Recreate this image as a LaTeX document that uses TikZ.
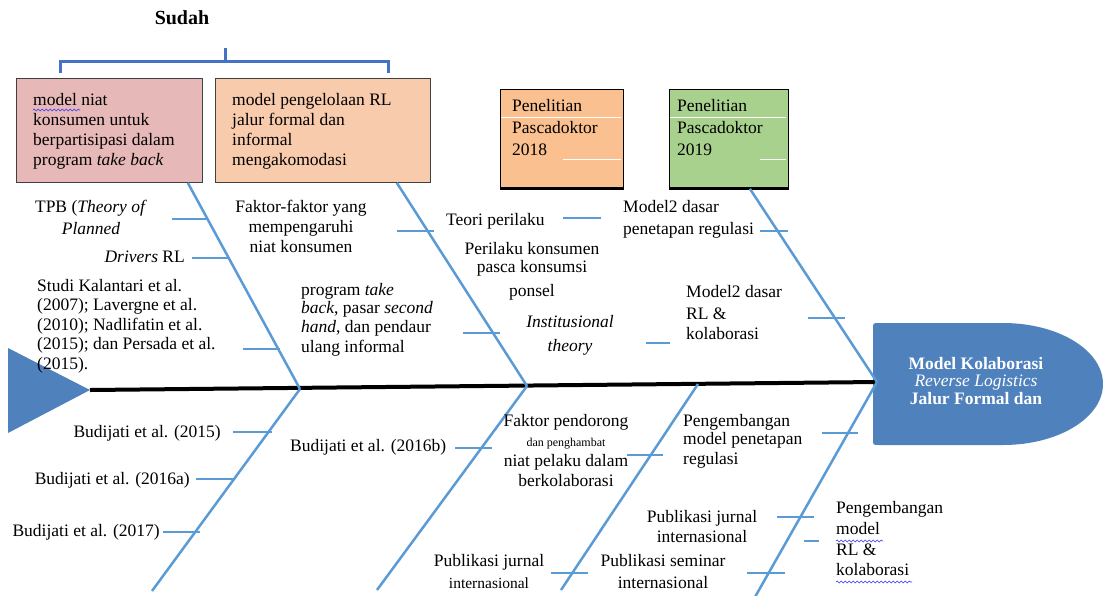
\documentclass[tikz,border=0pt]{standalone}
\usepackage{fontspec}
\setmainfont{Liberation Serif}
\usetikzlibrary{calc}
\usetikzlibrary{decorations.pathmorphing}

\definecolor{bonecol}{HTML}{5B9BD5}
\definecolor{headcol}{HTML}{4F81BD}
\definecolor{brackcol}{HTML}{4472C4}
\definecolor{pinkbox}{HTML}{E6B8B7}
\definecolor{peachbox}{HTML}{F8CBAD}
\definecolor{orangebox}{HTML}{FAC090}
\definecolor{greenbox}{HTML}{A9D18E}

\newcommand{\txt}{\fontsize{17.5}{20}\selectfont}
\newcommand{\smalltxt}{\fontsize{12}{14}\selectfont}

\tikzset{
  bone/.style = {draw = bonecol, line width = 2.5pt},
  rib/.style = {draw = bonecol, line width = 1.3pt},
  thickrib/.style = {draw = bonecol, line width = 2.5pt},
  lbl/.style = {inner sep = 0pt, font = \txt},
  topbox/.style = {draw = black!75, line width = .8pt, anchor = north west,
    inner sep = 0pt},
  wavy/.style = {draw = blue!80, line width = .6pt, decorate,
    decoration = {snake, amplitude = .9pt, segment length = 4pt}},
}

\begin{document}
\begin{tikzpicture}[x = 1pt, y = -1pt]
  \useasboundingbox (0, 0) rectangle (1103, 595);

  % bracket over the finished work
  \node[font = \fontsize{20}{22}\selectfont\bfseries, inner sep = 0pt]
  (sudah) at (182, 18) {Sudah};
  \draw[brackcol, line width = 3pt] (60, 73) -- (60, 61) -- (388, 61)
  -- (388, 73);
  \draw[brackcol, line width = 3pt] (225, 48) -- (225, 61);

  % boxes
  \node[topbox, fill = pinkbox, minimum width = 186, minimum height = 104]
  (box1) at (16, 78) {};
  \node[topbox, fill = peachbox, minimum width = 215, minimum height = 104]
  (box2) at (215, 78) {};
  \node[topbox, draw = black, fill = orangebox, minimum width = 123,
  minimum height = 99] (box3) at (500, 89) {};
  \node[topbox, draw = black, fill = greenbox, minimum width = 119,
  minimum height = 99] (box4) at (669, 89) {};
  \draw[line width = 3pt] (box3.south west) -- (box3.south east);
  \draw[line width = 3pt] (box4.south west) -- (box4.south east);
  \draw[white, line width = .8pt] (501, 117) -- (621, 117);
  \draw[white, line width = .8pt] (563, 159) -- (621, 159);
  \draw[white, line width = .8pt] (670, 117) -- (786, 117);
  \draw[white, line width = .8pt] (760, 159) -- (786, 159);

  \node[lbl, anchor = north west, align = left] (t1) at (33, 93)
  {model niat\\ konsumen untuk\\ berpartisipasi dalam\\
  program \textit{take back}};
  \draw[wavy] (33, 110) -- (80, 110);
  \node[lbl, anchor = north west, align = left] (t2) at (232, 93)
  {model pengelolaan RL\\ jalur formal dan\\ informal\\ mengakomodasi};
  \node[lbl, anchor = north west, align = left] (t3) at (512, 99)
  {Penelitian\\[2pt] Pascadoktor\\[2pt] 2018};
  \node[lbl, anchor = north west, align = left] (t4) at (677, 99)
  {Penelitian\\[2pt] Pascadoktor\\[2pt] 2019};

  % head and tail
  \fill[headcol] (873, 384) -- (873, 329) .. controls (873, 323) .. (879, 323)
  -- (1003, 323) .. controls (1058, 323) and (1103, 350) .. (1103, 384)
  .. controls (1103, 418) and (1058, 445) .. (1003, 445) -- (879, 445)
  .. controls (873, 445) .. (873, 439) -- cycle;
  \node[lbl, white, align = center, font = \fontsize{17.5}{17.5}\selectfont]
  (head) at (976, 381) {\textbf{Model Kolaborasi}\\
  \textit{Reverse Logistics}\\ \textbf{Jalur Formal dan}};
  \fill[headcol] (8, 348) -- (90, 390) coordinate (tailtip) -- (8, 433)
  -- cycle;

  % spine
  \coordinate (s1) at (300, 389);
  \coordinate (s2) at (527, 386);
  \coordinate (s3) at (698, 384);
  \coordinate (s4) at (877, 382);
  \draw[line width = 4pt] (tailtip) -- (s4);

  % bones
  \draw[bone] ($(box1.south east) + (-15, 0)$) -- (s1);
  \draw[bone] ($(box2.south east) + (-34, 0)$) -- (s2);
  \draw[bone] ($(box4.south) + (21, 0)$) -- (s4);
  \draw[bone] (s1) -- (152, 591) coordinate (e1);
  \draw[bone] (s2) -- (377, 590) coordinate (e2);
  \draw[bone] (s3) -- (561, 590) coordinate (e3);
  \draw[bone] (s4) -- (755, 597) coordinate (e4);

  % ribs
  \foreach \y/\xa/\xb in {349/243/280, 231/397/434, 333/463/500,
    218/563/601, 343/646/670, 231/760/788, 432/233/272, 479/196/235,
    532/163/200, 448/455/492, 455/627/663, 573/551/588, 517/777/814,
    541/804/819, 573/747/785}
    \draw[rib] (\xa, \y) -- (\xb, \y);
  \foreach \y/\xa/\xb in {219/172/208, 258/192/230, 318/808/845,
    433/822/858}
    \draw[thickrib] (\xa, \y) -- (\xb, \y);

  % labels above the spine
  \node[lbl, anchor = north, align = center] (tpb) at (91, 200)
  {TPB (\textit{Theory of}\\[2pt] \textit{Planned}};
  \node[lbl, anchor = base east] (drivers) at (185, 262)
  {\textit{Drivers} RL};
  \node[lbl, anchor = north west, align = left,
  font = \fontsize{17.5}{19.5}\selectfont] (studi) at (37, 279)
  {Studi Kalantari et al.\\ (2007); Lavergne et al.\\
  (2010); Nadlifatin et al.\\ (2015); dan Persada et al.\\ (2015).};
  \node[lbl, anchor = north, align = center] (faktor) at (301, 200)
  {Faktor-faktor yang\\ mempengaruhi\\ niat konsumen};
  \node[lbl, anchor = north west, align = left,
  font = \fontsize{17.5}{18.5}\selectfont] (program) at (301, 283)
  {program \textit{take}\\ \textit{back}, pasar \textit{second}\\
  \textit{hand}, dan pendaur\\[2pt] ulang informal};
  \node[lbl, anchor = base west] (teori) at (446, 225) {Teori perilaku};
  \node[lbl, anchor = north, align = center] (perilaku) at (532, 242)
  {Perilaku konsumen\\[-2pt] pasca konsumsi\\[4pt] ponsel};
  \node[lbl, anchor = north, align = center] (inst) at (570, 315)
  {\textit{Institusional}\\[4pt] \textit{theory}};
  \node[lbl, anchor = north west, align = left] (regdasar) at (623, 200)
  {Model2 dasar\\[2pt] penetapan regulasi};
  \node[lbl, anchor = north west, align = left] (rldasar) at (686, 285)
  {Model2 dasar\\[2pt] RL \&\\ kolaborasi};

  % labels below the spine
  \node[lbl, anchor = base east] (b15) at (221, 437)
  {Budijati et al. (2015)};
  \node[lbl, anchor = base east] (b16a) at (190, 484)
  {Budijati et al. (2016a)};
  \node[lbl, anchor = base east] (b17) at (160, 536)
  {Budijati et al. (2017)};
  \node[lbl, anchor = base west] (b16b) at (290, 451)
  {Budijati et al. (2016b)};
  \node[lbl, anchor = north, align = center] (pendorong) at (566, 414)
  {Faktor pendorong\\ {\smalltxt dan penghambat}\\ niat pelaku dalam\\
  berkolaborasi};
  \node[lbl, anchor = north west, align = left] (regkembang) at (683, 414)
  {Pengembangan\\[-2pt] model penetapan\\ regulasi};
  \node[lbl, anchor = north, align = center] (jurnal1) at (702, 510)
  {Publikasi jurnal\\ internasional};
  \node[lbl, anchor = north west, align = left] (rlkembang) at (836, 501)
  {Pengembangan\\[1pt] model\\[1pt] RL \&\\ kolaborasi};
  \draw[wavy] (836, 541) -- (883, 541);
  \draw[wavy] (836, 582) -- (912, 582);
  \node[lbl, anchor = north, align = center] (jurnal2) at (489, 554)
  {Publikasi jurnal\\[2pt] {\fontsize{15.5}{18}\selectfont internasional}};
  \node[lbl, anchor = north, align = center] (seminar) at (663, 554)
  {Publikasi seminar\\[2pt] internasional};
\end{tikzpicture}
\end{document}
